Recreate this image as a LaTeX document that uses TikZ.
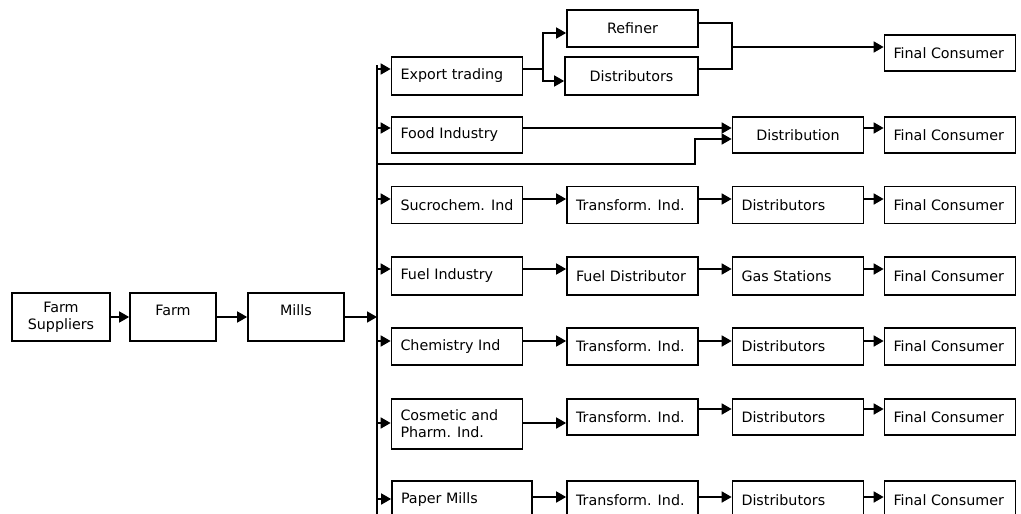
\documentclass[tikz,border=0pt]{standalone}
\usepackage{fontspec}
\setmainfont{DejaVu Sans}
\usetikzlibrary{arrows.meta}
\begin{document}
\begin{tikzpicture}[x=1pt,y=-1pt,line width=1.7pt,
    >={Triangle[length=10pt,width=11pt]},
    blk/.style={draw,font=\fontsize{14.3}{17}\selectfont,inner xsep=9pt,
      inner ysep=0pt,text width=113pt,minimum height=37pt,align=flush left},
    cblk/.style={blk,align=flush center},
    fblk/.style={draw,font=\fontsize{14.3}{17}\selectfont,inner sep=0pt,
      align=center,minimum height=48pt}]
  \clip (0,0) rectangle (1021,514);
  % supply side
  \node (fsup) at (61,317) [fblk,minimum width=98pt] {Farm\\Suppliers};
  \node (farm) at (173,317) [fblk,minimum width=86pt,text height=10pt,
    text depth=14pt] {Farm}; \node (mills) at (296,317) [fblk,minimum
    width=96pt,text height=10pt,text depth=14pt] {Mills};
  % export
  \node (exp) at (457,76) [blk,minimum height=38pt] {Export trading};
  \node (ref) at (632.5,28.5) [cblk] {Refiner}; \node (dis0) at
  (631.5,76) [cblk,text width=115pt,minimum height=38pt] {Distributors};
  \node (fc1) at (950,53) [blk,minimum height=36pt] {Final Consumer};
  % food
  \node (food) at (457,135) [blk,minimum height=36pt] {Food Industry};
  \node (dstn) at (798,135) [cblk,minimum height=36pt] {Distribution};
  \node (fc2) at (950,135) [blk,minimum height=36pt] {Final Consumer};
  % sucrochemistry
  \node (suc) at (457,205) [blk] {Sucrochem. Ind}; \node (tr1) at
  (632.5,205) [blk] {Transform. Ind.}; \node (dis1) at (798,205) [blk]
  {Distributors}; \node (fc3) at (950,205) [blk] {Final Consumer};
  % fuel
  \node (fuel) at (457,276) [blk,minimum height=38pt] {Fuel Industry};
  \node (fdis) at (632.5,276) [blk,minimum height=38pt] {Fuel Distributor};
  \node (gas) at (798,276) [blk,minimum height=38pt] {Gas Stations};
  \node (fc4) at (950,276) [blk,minimum height=38pt] {Final Consumer};
  % chemistry
  \node (chem) at (457,346.5) [blk] {Chemistry Ind}; \node (tr2) at
  (632.5,346.5) [blk] {Transform. Ind.}; \node (dis2) at (798,346.5)
  [blk] {Distributors}; \node (fc5) at (950,346.5) [blk] {Final Consumer};
  % cosmetics
  \node (cosm) at (457,424) [blk,minimum height=50pt] {Cosmetic and\\Pharm. Ind.};
  \node (tr3) at (632.5,417) [blk,minimum height=36pt] {Transform. Ind.};
  \node (dis3) at (798,417) [blk,minimum height=36pt] {Distributors};
  \node (fc6) at (950,417) [blk,minimum height=36pt] {Final Consumer};
  % paper
  \node (pap) at (462,500) [blk,text width=122pt,minimum height=38pt] {Paper Mills};
  \node (tr4) at (632.5,500) [blk,minimum height=38pt] {Transform. Ind.};
  \node (dis4) at (798,500) [blk,minimum height=38pt] {Distributors};
  \node (fc7) at (950,500) [blk,minimum height=38pt] {Final Consumer};
  % bus points
  \coordinate (btop) at (377,65); \coordinate (bbot) at (377,514);
  \coordinate (bm) at (377,317); \coordinate (bx) at (377,164);
  \coordinate (b1) at (377,69); \coordinate (b2) at (377,128);
  \coordinate (b3) at (377,199); \coordinate (b4) at (377,269);
  \coordinate (b5) at (377,341); \coordinate (b6) at (377,423);
  \coordinate (b7) at (377,499); \coordinate (r6) at (0,409);
  \coordinate (fk) at (543,69); \coordinate (mg) at (732,47);
  \coordinate (kn) at (695,164);
  \draw[->] (fsup) -- (farm); \draw[->] (farm) -- (mills); \draw[->]
  (mills) -- (bm); \draw (btop) -- (bbot);
  \draw[->] (b1) -- (b1 -| exp.west); \draw[->] (b2) -- (b2 -| food.west);
  \draw[->] (b3) -- (b3 -| suc.west); \draw[->] (b4) -- (b4 -| fuel.west);
  \draw[->] (b5) -- (b5 -| chem.west); \draw[->] (b6) -- (b6 -| cosm.west);
  \draw[->] (b7) -- (b7 -| pap.west);
  \draw[->] (exp.east |- fk) -- (fk) |- (ref.west |- 0,33); \draw[->]
  (fk) |- (dis0.west |- 0,81);
  \draw (ref.east |- 0,23) -| (mg) |- (dis0.east |- 0,69); \draw[->]
  (mg) -- (mg -| fc1.west);
  \draw[->] (food.east |- b2) -- (dstn.west |- b2); \draw[->]
  (dstn.east |- b2) -- (fc2.west |- b2); \draw[->] (bx) -- (kn) |-
  (dstn.west |- 0,139);
  \draw[->] (suc.east |- b3) -- (tr1.west |- b3); \draw[->] (tr1.east
  |- b3) -- (dis1.west |- b3); \draw[->] (dis1.east |- b3) -- (fc3.west |- b3);
  \draw[->] (fuel.east |- b4) -- (fdis.west |- b4); \draw[->] (fdis.east
  |- b4) -- (gas.west |- b4); \draw[->] (gas.east |- b4) -- (fc4.west |- b4);
  \draw[->] (chem.east |- b5) -- (tr2.west |- b5); \draw[->] (tr2.east
  |- b5) -- (dis2.west |- b5); \draw[->] (dis2.east |- b5) -- (fc5.west |- b5);
  \draw[->] (cosm.east |- b6) -- (tr3.west |- b6); \draw[->] (tr3.east
  |- r6) -- (dis3.west |- r6); \draw[->] (dis3.east |- r6) -- (fc6.west |- r6);
  \draw[->] (pap.east |- 0,497) -- (tr4.west |- 0,497); \draw[->]
  (tr4.east |- 0,497) -- (dis4.west |- 0,497); \draw[->] (dis4.east |-
  0,497) -- (fc7.west |- 0,497);
\end{tikzpicture}
\end{document}
